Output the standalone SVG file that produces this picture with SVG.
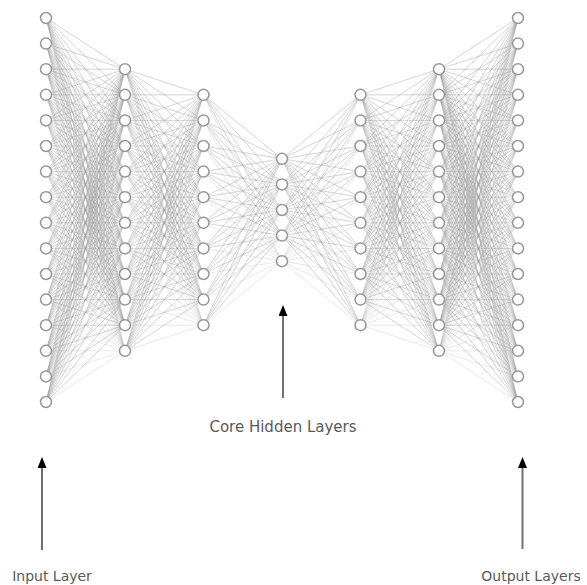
<svg xmlns="http://www.w3.org/2000/svg" xmlns:xlink="http://www.w3.org/1999/xlink" width="587" height="585" viewBox="0 0 587 585">
<style>
.e{fill:none;stroke:#a0a0a0;stroke-opacity:.3;stroke-width:.8;stroke-linejoin:round}
.n{fill:#fff;stroke:#979797;stroke-width:1.5}
.a{stroke:#707070;stroke-width:2;fill:none}
.t{font-family:"DejaVu Sans","Liberation Sans",sans-serif;fill:#5a5a5a;text-anchor:middle}
</style>
<defs>
<marker id="ah" viewBox="0 0 11 9" refX="1" refY="4.5" markerWidth="11" markerHeight="9" markerUnits="userSpaceOnUse" orient="auto">
<path d="M0 0L11 4.5L0 9z" fill="#000"/>
</marker>
</defs>
<rect width="587" height="585" fill="#fff"/>
<g id="connectors">
<g id="leftEdges">
<path class="e" d="M46 18L125 69.2 46 18 125 94.8 46 18 125 120.4 46 18 125 146 46 18 125 171.6 46 18 125 197.2 46 18 125 222.8 46 18 125 248.4 46 18 125 274 46 18 125 299.6 46 18 125 325.2 46 18 125 350.8"/>
<path class="e" d="M46 43.6L125 69.2 46 43.6 125 94.8 46 43.6 125 120.4 46 43.6 125 146 46 43.6 125 171.6 46 43.6 125 197.2 46 43.6 125 222.8 46 43.6 125 248.4 46 43.6 125 274 46 43.6 125 299.6 46 43.6 125 325.2 46 43.6 125 350.8"/>
<path class="e" d="M46 69.2L125 69.2 46 69.2 125 94.8 46 69.2 125 120.4 46 69.2 125 146 46 69.2 125 171.6 46 69.2 125 197.2 46 69.2 125 222.8 46 69.2 125 248.4 46 69.2 125 274 46 69.2 125 299.6 46 69.2 125 325.2 46 69.2 125 350.8"/>
<path class="e" d="M46 94.8L125 69.2 46 94.8 125 94.8 46 94.8 125 120.4 46 94.8 125 146 46 94.8 125 171.6 46 94.8 125 197.2 46 94.8 125 222.8 46 94.8 125 248.4 46 94.8 125 274 46 94.8 125 299.6 46 94.8 125 325.2 46 94.8 125 350.8"/>
<path class="e" d="M46 120.4L125 69.2 46 120.4 125 94.8 46 120.4 125 120.4 46 120.4 125 146 46 120.4 125 171.6 46 120.4 125 197.2 46 120.4 125 222.8 46 120.4 125 248.4 46 120.4 125 274 46 120.4 125 299.6 46 120.4 125 325.2 46 120.4 125 350.8"/>
<path class="e" d="M46 146L125 69.2 46 146 125 94.8 46 146 125 120.4 46 146 125 146 46 146 125 171.6 46 146 125 197.2 46 146 125 222.8 46 146 125 248.4 46 146 125 274 46 146 125 299.6 46 146 125 325.2 46 146 125 350.8"/>
<path class="e" d="M46 171.6L125 69.2 46 171.6 125 94.8 46 171.6 125 120.4 46 171.6 125 146 46 171.6 125 171.6 46 171.6 125 197.2 46 171.6 125 222.8 46 171.6 125 248.4 46 171.6 125 274 46 171.6 125 299.6 46 171.6 125 325.2 46 171.6 125 350.8"/>
<path class="e" d="M46 197.2L125 69.2 46 197.2 125 94.8 46 197.2 125 120.4 46 197.2 125 146 46 197.2 125 171.6 46 197.2 125 197.2 46 197.2 125 222.8 46 197.2 125 248.4 46 197.2 125 274 46 197.2 125 299.6 46 197.2 125 325.2 46 197.2 125 350.8"/>
<path class="e" d="M46 222.8L125 69.2 46 222.8 125 94.8 46 222.8 125 120.4 46 222.8 125 146 46 222.8 125 171.6 46 222.8 125 197.2 46 222.8 125 222.8 46 222.8 125 248.4 46 222.8 125 274 46 222.8 125 299.6 46 222.8 125 325.2 46 222.8 125 350.8"/>
<path class="e" d="M46 248.4L125 69.2 46 248.4 125 94.8 46 248.4 125 120.4 46 248.4 125 146 46 248.4 125 171.6 46 248.4 125 197.2 46 248.4 125 222.8 46 248.4 125 248.4 46 248.4 125 274 46 248.4 125 299.6 46 248.4 125 325.2 46 248.4 125 350.8"/>
<path class="e" d="M46 274L125 69.2 46 274 125 94.8 46 274 125 120.4 46 274 125 146 46 274 125 171.6 46 274 125 197.2 46 274 125 222.8 46 274 125 248.4 46 274 125 274 46 274 125 299.6 46 274 125 325.2 46 274 125 350.8"/>
<path class="e" d="M46 299.6L125 69.2 46 299.6 125 94.8 46 299.6 125 120.4 46 299.6 125 146 46 299.6 125 171.6 46 299.6 125 197.2 46 299.6 125 222.8 46 299.6 125 248.4 46 299.6 125 274 46 299.6 125 299.6 46 299.6 125 325.2 46 299.6 125 350.8"/>
<path class="e" d="M46 325.2L125 69.2 46 325.2 125 94.8 46 325.2 125 120.4 46 325.2 125 146 46 325.2 125 171.6 46 325.2 125 197.2 46 325.2 125 222.8 46 325.2 125 248.4 46 325.2 125 274 46 325.2 125 299.6 46 325.2 125 325.2 46 325.2 125 350.8"/>
<path class="e" d="M46 350.8L125 69.2 46 350.8 125 94.8 46 350.8 125 120.4 46 350.8 125 146 46 350.8 125 171.6 46 350.8 125 197.2 46 350.8 125 222.8 46 350.8 125 248.4 46 350.8 125 274 46 350.8 125 299.6 46 350.8 125 325.2 46 350.8 125 350.8"/>
<path class="e" d="M46 376.4L125 69.2 46 376.4 125 94.8 46 376.4 125 120.4 46 376.4 125 146 46 376.4 125 171.6 46 376.4 125 197.2 46 376.4 125 222.8 46 376.4 125 248.4 46 376.4 125 274 46 376.4 125 299.6 46 376.4 125 325.2 46 376.4 125 350.8"/>
<path class="e" d="M46 402L125 69.2 46 402 125 94.8 46 402 125 120.4 46 402 125 146 46 402 125 171.6 46 402 125 197.2 46 402 125 222.8 46 402 125 248.4 46 402 125 274 46 402 125 299.6 46 402 125 325.2 46 402 125 350.8"/>
<path class="e" d="M125 69.2L203.5 94.8 125 69.2 203.5 120.4 125 69.2 203.5 146 125 69.2 203.5 171.6 125 69.2 203.5 197.2 125 69.2 203.5 222.8 125 69.2 203.5 248.4 125 69.2 203.5 274 125 69.2 203.5 299.6 125 69.2 203.5 325.2"/>
<path class="e" d="M125 94.8L203.5 94.8 125 94.8 203.5 120.4 125 94.8 203.5 146 125 94.8 203.5 171.6 125 94.8 203.5 197.2 125 94.8 203.5 222.8 125 94.8 203.5 248.4 125 94.8 203.5 274 125 94.8 203.5 299.6 125 94.8 203.5 325.2"/>
<path class="e" d="M125 120.4L203.5 94.8 125 120.4 203.5 120.4 125 120.4 203.5 146 125 120.4 203.5 171.6 125 120.4 203.5 197.2 125 120.4 203.5 222.8 125 120.4 203.5 248.4 125 120.4 203.5 274 125 120.4 203.5 299.6 125 120.4 203.5 325.2"/>
<path class="e" d="M125 146L203.5 94.8 125 146 203.5 120.4 125 146 203.5 146 125 146 203.5 171.6 125 146 203.5 197.2 125 146 203.5 222.8 125 146 203.5 248.4 125 146 203.5 274 125 146 203.5 299.6 125 146 203.5 325.2"/>
<path class="e" d="M125 171.6L203.5 94.8 125 171.6 203.5 120.4 125 171.6 203.5 146 125 171.6 203.5 171.6 125 171.6 203.5 197.2 125 171.6 203.5 222.8 125 171.6 203.5 248.4 125 171.6 203.5 274 125 171.6 203.5 299.6 125 171.6 203.5 325.2"/>
<path class="e" d="M125 197.2L203.5 94.8 125 197.2 203.5 120.4 125 197.2 203.5 146 125 197.2 203.5 171.6 125 197.2 203.5 197.2 125 197.2 203.5 222.8 125 197.2 203.5 248.4 125 197.2 203.5 274 125 197.2 203.5 299.6 125 197.2 203.5 325.2"/>
<path class="e" d="M125 222.8L203.5 94.8 125 222.8 203.5 120.4 125 222.8 203.5 146 125 222.8 203.5 171.6 125 222.8 203.5 197.2 125 222.8 203.5 222.8 125 222.8 203.5 248.4 125 222.8 203.5 274 125 222.8 203.5 299.6 125 222.8 203.5 325.2"/>
<path class="e" d="M125 248.4L203.5 94.8 125 248.4 203.5 120.4 125 248.4 203.5 146 125 248.4 203.5 171.6 125 248.4 203.5 197.2 125 248.4 203.5 222.8 125 248.4 203.5 248.4 125 248.4 203.5 274 125 248.4 203.5 299.6 125 248.4 203.5 325.2"/>
<path class="e" d="M125 274L203.5 94.8 125 274 203.5 120.4 125 274 203.5 146 125 274 203.5 171.6 125 274 203.5 197.2 125 274 203.5 222.8 125 274 203.5 248.4 125 274 203.5 274 125 274 203.5 299.6 125 274 203.5 325.2"/>
<path class="e" d="M125 299.6L203.5 94.8 125 299.6 203.5 120.4 125 299.6 203.5 146 125 299.6 203.5 171.6 125 299.6 203.5 197.2 125 299.6 203.5 222.8 125 299.6 203.5 248.4 125 299.6 203.5 274 125 299.6 203.5 299.6 125 299.6 203.5 325.2"/>
<path class="e" d="M125 325.2L203.5 94.8 125 325.2 203.5 120.4 125 325.2 203.5 146 125 325.2 203.5 171.6 125 325.2 203.5 197.2 125 325.2 203.5 222.8 125 325.2 203.5 248.4 125 325.2 203.5 274 125 325.2 203.5 299.6 125 325.2 203.5 325.2"/>
<path class="e" d="M125 350.8L203.5 94.8 125 350.8 203.5 120.4 125 350.8 203.5 146 125 350.8 203.5 171.6 125 350.8 203.5 197.2 125 350.8 203.5 222.8 125 350.8 203.5 248.4 125 350.8 203.5 274 125 350.8 203.5 299.6 125 350.8 203.5 325.2"/>
<path class="e" d="M203.5 94.8L282 158.8 203.5 94.8 282 184.4 203.5 94.8 282 210 203.5 94.8 282 235.6 203.5 94.8 282 261.2"/>
<path class="e" d="M203.5 120.4L282 158.8 203.5 120.4 282 184.4 203.5 120.4 282 210 203.5 120.4 282 235.6 203.5 120.4 282 261.2"/>
<path class="e" d="M203.5 146L282 158.8 203.5 146 282 184.4 203.5 146 282 210 203.5 146 282 235.6 203.5 146 282 261.2"/>
<path class="e" d="M203.5 171.6L282 158.8 203.5 171.6 282 184.4 203.5 171.6 282 210 203.5 171.6 282 235.6 203.5 171.6 282 261.2"/>
<path class="e" d="M203.5 197.2L282 158.8 203.5 197.2 282 184.4 203.5 197.2 282 210 203.5 197.2 282 235.6 203.5 197.2 282 261.2"/>
<path class="e" d="M203.5 222.8L282 158.8 203.5 222.8 282 184.4 203.5 222.8 282 210 203.5 222.8 282 235.6 203.5 222.8 282 261.2"/>
<path class="e" d="M203.5 248.4L282 158.8 203.5 248.4 282 184.4 203.5 248.4 282 210 203.5 248.4 282 235.6 203.5 248.4 282 261.2"/>
<path class="e" d="M203.5 274L282 158.8 203.5 274 282 184.4 203.5 274 282 210 203.5 274 282 235.6 203.5 274 282 261.2"/>
<path class="e" d="M203.5 299.6L282 158.8 203.5 299.6 282 184.4 203.5 299.6 282 210 203.5 299.6 282 235.6 203.5 299.6 282 261.2"/>
<path class="e" d="M203.5 325.2L282 158.8 203.5 325.2 282 184.4 203.5 325.2 282 210 203.5 325.2 282 235.6 203.5 325.2 282 261.2"/>
</g>
<use id="rightEdges" xlink:href="#leftEdges" href="#leftEdges" transform="matrix(-1 0 0 1 564 0)"/>
<line id="arrowInput" class="a" x1="42" y1="550" x2="42" y2="467" marker-end="url(#ah)"/>
<line id="arrowCore" class="a" x1="283" y1="398" x2="283" y2="315" marker-end="url(#ah)"/>
<line id="arrowOutput" class="a" x1="522.5" y1="549" x2="522.5" y2="467" marker-end="url(#ah)"/>
</g>
<g id="layer1">
<g id="n1-1"><circle class="n" cx="46" cy="18" r="5.5"/></g>
<g id="n1-2"><circle class="n" cx="46" cy="43.6" r="5.5"/></g>
<g id="n1-3"><circle class="n" cx="46" cy="69.2" r="5.5"/></g>
<g id="n1-4"><circle class="n" cx="46" cy="94.8" r="5.5"/></g>
<g id="n1-5"><circle class="n" cx="46" cy="120.4" r="5.5"/></g>
<g id="n1-6"><circle class="n" cx="46" cy="146" r="5.5"/></g>
<g id="n1-7"><circle class="n" cx="46" cy="171.6" r="5.5"/></g>
<g id="n1-8"><circle class="n" cx="46" cy="197.2" r="5.5"/></g>
<g id="n1-9"><circle class="n" cx="46" cy="222.8" r="5.5"/></g>
<g id="n1-10"><circle class="n" cx="46" cy="248.4" r="5.5"/></g>
<g id="n1-11"><circle class="n" cx="46" cy="274" r="5.5"/></g>
<g id="n1-12"><circle class="n" cx="46" cy="299.6" r="5.5"/></g>
<g id="n1-13"><circle class="n" cx="46" cy="325.2" r="5.5"/></g>
<g id="n1-14"><circle class="n" cx="46" cy="350.8" r="5.5"/></g>
<g id="n1-15"><circle class="n" cx="46" cy="376.4" r="5.5"/></g>
<g id="n1-16"><circle class="n" cx="46" cy="402" r="5.5"/></g>
</g>
<g id="layer2">
<g id="n2-1"><circle class="n" cx="125" cy="69.2" r="5.5"/></g>
<g id="n2-2"><circle class="n" cx="125" cy="94.8" r="5.5"/></g>
<g id="n2-3"><circle class="n" cx="125" cy="120.4" r="5.5"/></g>
<g id="n2-4"><circle class="n" cx="125" cy="146" r="5.5"/></g>
<g id="n2-5"><circle class="n" cx="125" cy="171.6" r="5.5"/></g>
<g id="n2-6"><circle class="n" cx="125" cy="197.2" r="5.5"/></g>
<g id="n2-7"><circle class="n" cx="125" cy="222.8" r="5.5"/></g>
<g id="n2-8"><circle class="n" cx="125" cy="248.4" r="5.5"/></g>
<g id="n2-9"><circle class="n" cx="125" cy="274" r="5.5"/></g>
<g id="n2-10"><circle class="n" cx="125" cy="299.6" r="5.5"/></g>
<g id="n2-11"><circle class="n" cx="125" cy="325.2" r="5.5"/></g>
<g id="n2-12"><circle class="n" cx="125" cy="350.8" r="5.5"/></g>
</g>
<g id="layer3">
<g id="n3-1"><circle class="n" cx="203.5" cy="94.8" r="5.5"/></g>
<g id="n3-2"><circle class="n" cx="203.5" cy="120.4" r="5.5"/></g>
<g id="n3-3"><circle class="n" cx="203.5" cy="146" r="5.5"/></g>
<g id="n3-4"><circle class="n" cx="203.5" cy="171.6" r="5.5"/></g>
<g id="n3-5"><circle class="n" cx="203.5" cy="197.2" r="5.5"/></g>
<g id="n3-6"><circle class="n" cx="203.5" cy="222.8" r="5.5"/></g>
<g id="n3-7"><circle class="n" cx="203.5" cy="248.4" r="5.5"/></g>
<g id="n3-8"><circle class="n" cx="203.5" cy="274" r="5.5"/></g>
<g id="n3-9"><circle class="n" cx="203.5" cy="299.6" r="5.5"/></g>
<g id="n3-10"><circle class="n" cx="203.5" cy="325.2" r="5.5"/></g>
</g>
<g id="layer4">
<g id="n4-1"><circle class="n" cx="282" cy="158.8" r="5.5"/></g>
<g id="n4-2"><circle class="n" cx="282" cy="184.4" r="5.5"/></g>
<g id="n4-3"><circle class="n" cx="282" cy="210" r="5.5"/></g>
<g id="n4-4"><circle class="n" cx="282" cy="235.6" r="5.5"/></g>
<g id="n4-5"><circle class="n" cx="282" cy="261.2" r="5.5"/></g>
</g>
<g id="layer5">
<g id="n5-1"><circle class="n" cx="360.5" cy="94.8" r="5.5"/></g>
<g id="n5-2"><circle class="n" cx="360.5" cy="120.4" r="5.5"/></g>
<g id="n5-3"><circle class="n" cx="360.5" cy="146" r="5.5"/></g>
<g id="n5-4"><circle class="n" cx="360.5" cy="171.6" r="5.5"/></g>
<g id="n5-5"><circle class="n" cx="360.5" cy="197.2" r="5.5"/></g>
<g id="n5-6"><circle class="n" cx="360.5" cy="222.8" r="5.5"/></g>
<g id="n5-7"><circle class="n" cx="360.5" cy="248.4" r="5.5"/></g>
<g id="n5-8"><circle class="n" cx="360.5" cy="274" r="5.5"/></g>
<g id="n5-9"><circle class="n" cx="360.5" cy="299.6" r="5.5"/></g>
<g id="n5-10"><circle class="n" cx="360.5" cy="325.2" r="5.5"/></g>
</g>
<g id="layer6">
<g id="n6-1"><circle class="n" cx="439" cy="69.2" r="5.5"/></g>
<g id="n6-2"><circle class="n" cx="439" cy="94.8" r="5.5"/></g>
<g id="n6-3"><circle class="n" cx="439" cy="120.4" r="5.5"/></g>
<g id="n6-4"><circle class="n" cx="439" cy="146" r="5.5"/></g>
<g id="n6-5"><circle class="n" cx="439" cy="171.6" r="5.5"/></g>
<g id="n6-6"><circle class="n" cx="439" cy="197.2" r="5.5"/></g>
<g id="n6-7"><circle class="n" cx="439" cy="222.8" r="5.5"/></g>
<g id="n6-8"><circle class="n" cx="439" cy="248.4" r="5.5"/></g>
<g id="n6-9"><circle class="n" cx="439" cy="274" r="5.5"/></g>
<g id="n6-10"><circle class="n" cx="439" cy="299.6" r="5.5"/></g>
<g id="n6-11"><circle class="n" cx="439" cy="325.2" r="5.5"/></g>
<g id="n6-12"><circle class="n" cx="439" cy="350.8" r="5.5"/></g>
</g>
<g id="layer7">
<g id="n7-1"><circle class="n" cx="518" cy="18" r="5.5"/></g>
<g id="n7-2"><circle class="n" cx="518" cy="43.6" r="5.5"/></g>
<g id="n7-3"><circle class="n" cx="518" cy="69.2" r="5.5"/></g>
<g id="n7-4"><circle class="n" cx="518" cy="94.8" r="5.5"/></g>
<g id="n7-5"><circle class="n" cx="518" cy="120.4" r="5.5"/></g>
<g id="n7-6"><circle class="n" cx="518" cy="146" r="5.5"/></g>
<g id="n7-7"><circle class="n" cx="518" cy="171.6" r="5.5"/></g>
<g id="n7-8"><circle class="n" cx="518" cy="197.2" r="5.5"/></g>
<g id="n7-9"><circle class="n" cx="518" cy="222.8" r="5.5"/></g>
<g id="n7-10"><circle class="n" cx="518" cy="248.4" r="5.5"/></g>
<g id="n7-11"><circle class="n" cx="518" cy="274" r="5.5"/></g>
<g id="n7-12"><circle class="n" cx="518" cy="299.6" r="5.5"/></g>
<g id="n7-13"><circle class="n" cx="518" cy="325.2" r="5.5"/></g>
<g id="n7-14"><circle class="n" cx="518" cy="350.8" r="5.5"/></g>
<g id="n7-15"><circle class="n" cx="518" cy="376.4" r="5.5"/></g>
<g id="n7-16"><circle class="n" cx="518" cy="402" r="5.5"/></g>
</g>
<g id="labels">
<text class="t" x="283" y="432" font-size="15">Core Hidden Layers</text>
<text class="t" x="52" y="581" font-size="14">Input Layer</text>
<text class="t" x="531" y="581" font-size="14">Output Layers</text>
</g>
</svg>
